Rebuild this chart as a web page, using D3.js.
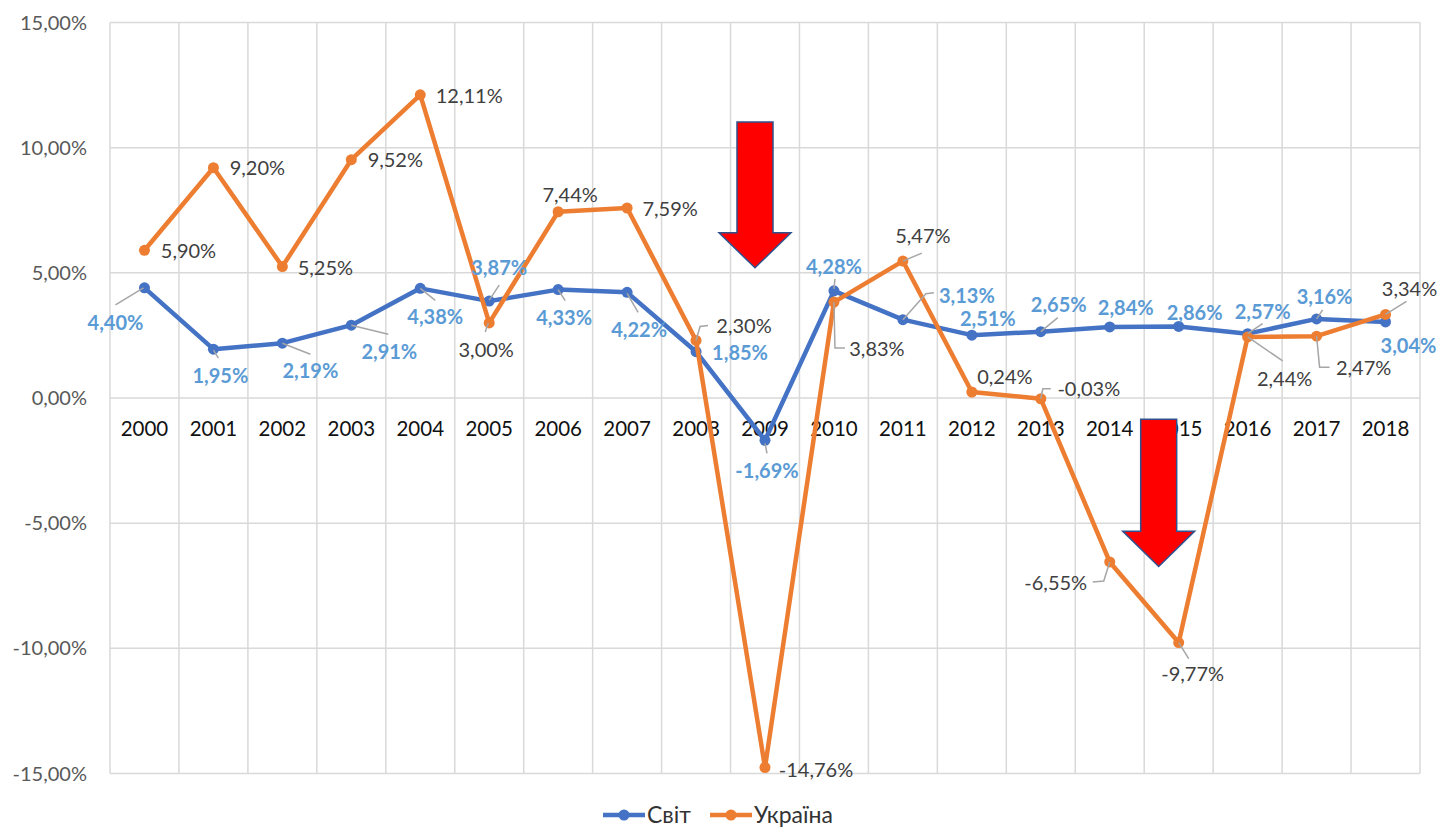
<!DOCTYPE html>
<html>
<head>
<meta charset="utf-8">
<script src="https://cdn.jsdelivr.net/npm/d3@7/dist/d3.min.js"></script>
<style>
	body { margin: 0; background: #fff; }
	svg { font-family: Lato, "Liberation Sans", sans-serif; }
</style>
</head>
<body>
<svg width="1439" height="827"></svg>
<script>
// data
var years = ["2000","2001","2002","2003","2004","2005","2006","2007","2008","2009",
	"2010","2011","2012","2013","2014","2015","2016","2017","2018"];
var world = [4.40, 1.95, 2.19, 2.91, 4.38, 3.87, 4.33, 4.22, 1.85, -1.69,
	4.28, 3.13, 2.51, 2.65, 2.84, 2.86, 2.57, 3.16, 3.04];
var ukraine = [5.90, 9.20, 5.25, 9.52, 12.11, 3.00, 7.44, 7.59, 2.30, -14.76,
	3.83, 5.47, 0.24, -0.03, -6.55, -9.77, 2.44, 2.47, 3.34];
var yTicks = [-15, -10, -5, 0, 5, 10, 15];
var seriesNames = ["Світ", "Україна"];

// label placement (offset of label centre from point) and leader lines
var worldLabelPos = [
	[-29, 35, [[-1,0],[-29,17]]], [7, 27, [[0,1],[5,9]]], [28, 28, [[0,0],[28,11]]],
	[38, 27, [[0,0],[37,9]]], [15, 29, [[0,0],[15,12]]], [10, -33, [[0,-1],[10,-16]]],
	[6, 28, [[0,0],[7,11]]], [12, 38, [[0,1],[11,20]]], [44, 1, null],
	[2, 31, [[0,3],[2,13]]], [0, -24, [[0,-2],[1,-12]]], [64, -24, [[0,0],[23,-26],[31,-27]]],
	[16, -16, null], [18, -27, [[0,0],[17,-14]]], [16, -19, null],
	[16, -13, null], [15, -22, [[0,0],[15,-10]]], [8, -22, [[0,0],[6,-9]]], [23, 24, null]
];
var ukraineLabelPos = [
	[44, 1, null], [44, 0, null], [43, 1, null], [44, 0, null], [49, 1, null],
	[-3, 27, [[-1,0],[-4,9]]], [12, -17, null], [43, 1, null],
	[48, -14, [[0,0],[4,-14],[12,-15]]], [51, 3, null],
	[43, 47, [[0,0],[1,46],[11,46]]], [20, -25, [[0,0],[19,-8]]], [33, -15, null],
	[48, -10, [[0,0],[2,-10],[10,-10]]], [-54, 21, [[0,0],[-6,19],[-17,20]]],
	[14, 31, [[0,0],[10,16]]], [37, 42, [[0,0],[35,24]]], [47, 32, [[0,0],[3,31],[13,31]]],
	[24, -25, [[0,0],[21,-13]]]
];

// red arrows: centre year, pixel shift, top value, tip value
var arrows = [
	{year: "2009", shift: -10, top: 11.03, tip: 5.2},
	{year: "2015", shift: -20, top: -0.85, tip: -6.73}
];

var svg = d3.select("svg"),
	margin = {left: 110, right: 19, top: 22.5, bottom: 53.5},
	width = +svg.attr("width"),
	height = +svg.attr("height");

var locale = d3.formatLocale({decimal: ",", thousands: " ", grouping: [3], currency: ["", ""], minus: "-"});
var fmt = locale.format(".2f");
function pct(v) { return fmt(v) + "%"; }

var x = d3.scaleBand()
	.domain(years)
	.range([margin.left, width - margin.right]);
var y = d3.scaleLinear()
	.domain([-15, 15])
	.range([height - margin.bottom, margin.top]);
function cx(i) { return x(years[i]) + x.bandwidth() / 2; }

var grid = svg.append("g").attr("stroke", "#d9d9d9").attr("stroke-width", 1.5);
grid.selectAll("line.h")
	.data(yTicks)
	.enter().append("line")
	.attr("x1", margin.left).attr("x2", width - margin.right)
	.attr("y1", function(d) { return y(d); })
	.attr("y2", function(d) { return y(d); });
grid.selectAll("line.v")
	.data(years.concat(["end"]))
	.enter().append("line")
	.attr("x1", function(d, i) { return margin.left + i * x.bandwidth(); })
	.attr("x2", function(d, i) { return margin.left + i * x.bandwidth(); })
	.attr("y1", y(15)).attr("y2", y(-15));

// y axis labels
svg.append("g").selectAll("text")
	.data(yTicks)
	.enter().append("text")
	.attr("x", 87)
	.attr("y", function(d) { return y(d); })
	.attr("dy", "0.35em")
	.attr("text-anchor", "end")
	.attr("fill", "#595959")
	.style("font-size", "20px")
	.text(function(d) { return pct(d); });

// category labels at the zero line
svg.append("g").selectAll("text")
	.data(years)
	.enter().append("text")
	.attr("x", function(d, i) { return cx(i); })
	.attr("y", y(0) + 31)
	.attr("dy", "0.35em")
	.attr("text-anchor", "middle")
	.attr("fill", "#111")
	.style("font-size", "20.5px")
	.text(function(d) { return d; });

var line = d3.line()
	.x(function(d, i) { return cx(i); })
	.y(function(d) { return y(d); });

function drawSeries(values, color) {
	svg.append("path")
		.datum(values)
		.attr("fill", "none")
		.attr("stroke", color)
		.attr("stroke-width", 4.5)
		.attr("stroke-linejoin", "round")
		.attr("d", line);
	svg.append("g").selectAll("circle")
		.data(values)
		.enter().append("circle")
		.attr("cx", function(d, i) { return cx(i); })
		.attr("cy", function(d) { return y(d); })
		.attr("r", 5.5)
		.attr("fill", color);
}

function drawLabels(values, pos, color, weight) {
	var g = svg.append("g");
	g.selectAll("polyline")
		.data(values)
		.enter().filter(function(d, i) { return pos[i][2]; })
		.append("polyline")
		.attr("fill", "none")
		.attr("stroke", "#a6a6a6")
		.attr("stroke-width", 1.5)
		.attr("points", function(d) {
			var i = values.indexOf(d);
			return pos[i][2].map(function(p) { return [cx(i) + p[0], y(d) + p[1]].join(","); }).join(" ");
		});
	g.selectAll("text")
		.data(values)
		.enter().append("text")
		.attr("x", function(d, i) { return cx(i) + pos[i][0]; })
		.attr("y", function(d, i) { return y(d) + pos[i][1]; })
		.attr("dy", "0.35em")
		.attr("text-anchor", "middle")
		.attr("fill", color)
		.style("font-size", "20px")
		.style("font-weight", weight)
		.text(function(d) { return pct(d); });
}

drawSeries(world, "#4472c4");
drawSeries(ukraine, "#ed7d31");
drawLabels(world, worldLabelPos, "#5b9bd5", "bold");
drawLabels(ukraine, ukraineLabelPos, "#404040", "normal");

// arrows
svg.append("g").selectAll("path")
	.data(arrows)
	.enter().append("path")
	.attr("fill", "#ff0000")
	.attr("stroke", "#2f528f")
	.attr("stroke-width", 1.5)
	.attr("d", function(d) {
		var c = x(d.year) + x.bandwidth() / 2 + d.shift,
			t = y(d.top), b = y(d.tip),
			h = b - t, neck = b - 0.24 * h;
		return "M" + (c - 18) + "," + t + "H" + (c + 18) + "V" + neck + "H" + (c + 36) +
			"L" + c + "," + b + "L" + (c - 36) + "," + neck + "H" + (c - 18) + "Z";
	});

// legend
var legend = svg.append("g");
var legendItems = [
	{name: seriesNames[0], color: "#4472c4", x: 603},
	{name: seriesNames[1], color: "#ed7d31", x: 710}
];
var li = legend.selectAll("g")
	.data(legendItems)
	.enter().append("g")
	.attr("transform", function(d) { return "translate(" + d.x + ",815)"; });
li.append("line")
	.attr("x2", 42)
	.attr("stroke", function(d) { return d.color; })
	.attr("stroke-width", 4.5);
li.append("circle")
	.attr("cx", 21).attr("r", 5.5)
	.attr("fill", function(d) { return d.color; });
li.append("text")
	.attr("x", 44)
	.attr("dy", "0.35em")
	.attr("fill", "#333")
	.style("font-size", "23px")
	.text(function(d) { return d.name; });
</script>
</body>
</html>
